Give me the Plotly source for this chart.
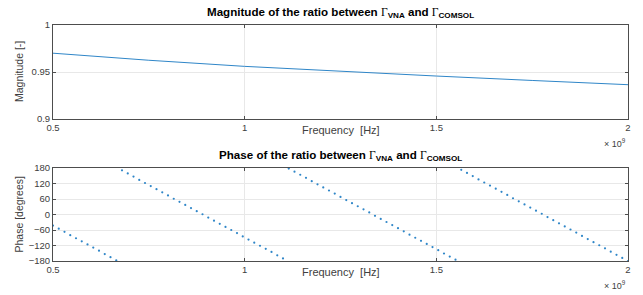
import plotly.graph_objects as go

# ---- data ----
mag_freq_hz = [0.5e9, 0.75e9, 1.0e9, 1.25e9, 1.5e9, 1.75e9, 2.0e9]
mag_values = [0.970, 0.9625, 0.9560, 0.9505, 0.9457, 0.9410, 0.9365]

phase_freq_start_hz = 0.5e9
phase_freq_step_hz = 15e6
phase_deg = [
    -43, -55, -67, -80, -92, -104, -116, -128, -140, -153,
    -165, -177, 171, 159, 147, 134, 122, 110, 98, 86,
    74, 61, 49, 37, 25, 13, 1, -12, -24, -36,
    -48, -60, -72, -85, -97, -109, -121, -133, -145, -158,
    -170, 178, 166, 154, 142, 129, 117, 105, 93, 81,
    68, 56, 44, 32, 20, 8, -5, -17, -29, -41,
    -53, -65, -78, -90, -102, -114, -126, -138, -151, -163,
    -175, 173, 161, 149, 136, 124, 112, 100, 88, 76,
    63, 51, 39, 27, 15, 3, -10, -22, -34, -46,
    -58, -70, -83, -95, -107, -119, -131, -144, -156, -168,
    -180,
]
phase_freq_hz = [phase_freq_start_hz + i * phase_freq_step_hz for i in range(len(phase_deg))]

x_tickvals = [0.5e9, 1.0e9, 1.5e9, 2.0e9]
x_ticktext = ["0.5", "1", "1.5", "2"]
mag_tickvals = [0.9, 0.95, 1.0]
mag_ticktext = ["0.9", "0.95", "1"]
phase_tickvals = [-180, -120, -60, 0, 60, 120, 180]

title_mag = "Magnitude of the ratio between"
title_phase = "Phase of the ratio between"

# ---- style ----
BLUE = "#2f86c8"
AX = "#4d4d4d"
TXT = "#404040"
GRID = "#e8e8e8"
FONT = "Liberation Sans, Arial, sans-serif"
GAMMA = "<span style='font-family:Liberation Serif, Times New Roman, serif;font-weight:normal'>Γ</span>"


def make_title(prefix):
    return (f"<b>{prefix} </b>{GAMMA}<sub><b>VNA</b></sub><b> and </b>"
            f"{GAMMA}<sub><b>COMSOL</b></sub>")


fig = go.Figure()
fig.add_trace(go.Scatter(x=mag_freq_hz, y=mag_values, mode="lines",
                         line=dict(color=BLUE, width=1), xaxis="x", yaxis="y",
                         showlegend=False))
fig.add_trace(go.Scatter(x=phase_freq_hz, y=phase_deg, mode="markers",
                         marker=dict(color=BLUE, size=2.2), xaxis="x2", yaxis="y2",
                         showlegend=False))

common_x = dict(range=[0.5e9, 2.0e9], tickvals=x_tickvals, ticktext=x_ticktext,
                showgrid=True, gridcolor=GRID, gridwidth=1, zeroline=False,
                showline=True, linecolor=AX, linewidth=1, mirror="ticks",
                ticks="inside", ticklen=3, tickcolor=AX,
                tickfont=dict(size=9.5, color=TXT, family=FONT))
common_y = dict(showgrid=True, gridcolor=GRID, gridwidth=1, zeroline=False,
                showline=True, linecolor=AX, linewidth=1, mirror="ticks",
                ticks="inside", ticklen=3, tickcolor=AX,
                tickfont=dict(size=9.5, color=TXT, family=FONT))

fig.update_layout(
    width=643, height=295,
    margin=dict(l=53, r=13, t=25, b=34),
    paper_bgcolor="white", plot_bgcolor="white",
    font=dict(family=FONT, size=9.5, color=TXT),
    xaxis=dict(domain=[0, 1], anchor="y", **common_x),
    yaxis=dict(domain=[0.6017, 1], anchor="x", range=[0.9, 1.0],
               tickvals=mag_tickvals, ticktext=mag_ticktext, **common_y),
    xaxis2=dict(domain=[0, 1], anchor="y2", **common_x),
    yaxis2=dict(domain=[0, 0.394], anchor="x2", range=[-180, 180],
                tickvals=phase_tickvals, **common_y),
)

annots = [
    # titles
    dict(text=make_title(title_mag), xref="x domain", yref="y domain", x=0.5, y=1.0,
         yshift=3, xanchor="center", yanchor="bottom", showarrow=False,
         font=dict(size=11.6, color="black", family=FONT)),
    dict(text=make_title(title_phase), xref="x2 domain", yref="y2 domain", x=0.5, y=1.0,
         yshift=3, xanchor="center", yanchor="bottom", showarrow=False,
         font=dict(size=11.6, color="black", family=FONT)),
    # x axis titles
    dict(text="Frequency  [Hz]", xref="x domain", yref="y domain", x=0.5, y=0,
         yshift=-11, xanchor="center", yanchor="middle", showarrow=False,
         font=dict(size=11, color=TXT, family=FONT)),
    dict(text="Frequency  [Hz]", xref="x2 domain", yref="y2 domain", x=0.5, y=0,
         yshift=-11, xanchor="center", yanchor="middle", showarrow=False,
         font=dict(size=11, color=TXT, family=FONT)),
    # exponent labels
    dict(text="× 10<sup>9</sup>", xref="x domain", yref="y domain", x=1.0, y=0,
         yshift=-24, xanchor="right", yanchor="middle", showarrow=False,
         font=dict(size=9, color=TXT, family=FONT)),
    dict(text="× 10<sup>9</sup>", xref="x2 domain", yref="y2 domain", x=1.0, y=0,
         yshift=-24, xanchor="right", yanchor="middle", showarrow=False,
         font=dict(size=9, color=TXT, family=FONT)),
    # y axis titles
    dict(text="Magnitude [-]", xref="paper", yref="y domain", x=0, xshift=-34, y=0.5,
         xanchor="center", yanchor="middle", textangle=-90, showarrow=False,
         font=dict(size=10.5, color=TXT, family=FONT)),
    dict(text="Phase [degrees]", xref="paper", yref="y2 domain", x=0, xshift=-34, y=0.5,
         xanchor="center", yanchor="middle", textangle=-90, showarrow=False,
         font=dict(size=10.5, color=TXT, family=FONT)),
]
fig.update_layout(annotations=annots)

fig.write_html("out.html", config={"displayModeBar": False},
               post_script="document.body.style.margin='0';document.body.style.overflow='hidden';")
